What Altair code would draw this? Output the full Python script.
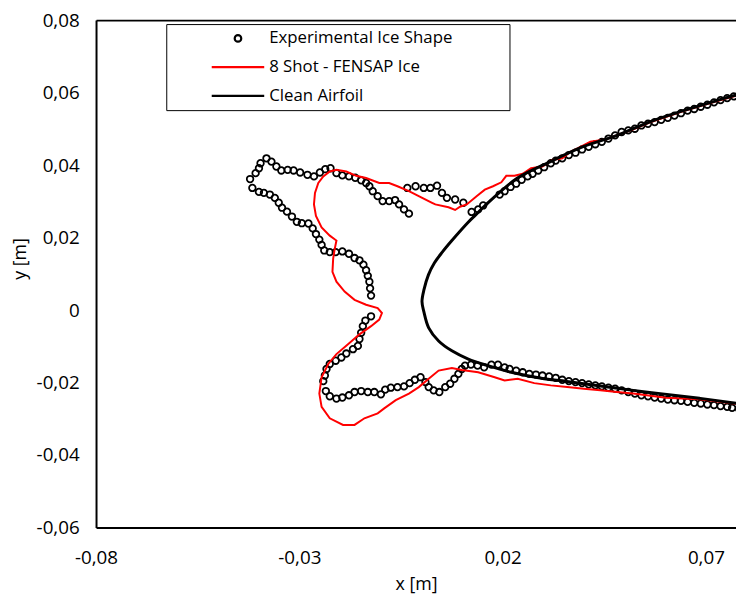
import altair as alt
import pandas as pd

# ---------------- data ----------------
series = ["Experimental Ice Shape", "8 Shot - FENSAP Ice", "Clean Airfoil"]

exp_x = [
    -0.03808, -0.03686, -0.03564, -0.03443, -0.03287, -0.03141, -0.02980, -0.02800, -0.02640, -0.02494,
    -0.02362, -0.02233, -0.02087, -0.01942, -0.01779, -0.01625, -0.01479, -0.01358, -0.01277, -0.01195,
    -0.01073, -0.00951, -0.00791, -0.00645, -0.00547, -0.00426, -0.00304,
    -0.03954, -0.03993, -0.04075, -0.04211, -0.04155, -0.03993, -0.03871, -0.03725, -0.03603, -0.03506,
    -0.03426, -0.03304, -0.03182, -0.03061, -0.02939, -0.02776, -0.02671, -0.02591, -0.02508, -0.02452,
    -0.02387, -0.02251, -0.02105, -0.01942, -0.01779, -0.01642, -0.01521, -0.01423, -0.01358, -0.01316,
    -0.01277, -0.01260, -0.01236,
    -0.00343, -0.00141, 0.00061, 0.00224, 0.00387, 0.00508, 0.00630, 0.00832, 0.01034, 0.01238, 0.01399, 0.01521,
    0.01927, 0.02049, 0.02195, 0.02333, 0.02469, 0.02615, 0.02737, 0.02876, 0.03022, 0.03185,
    0.03306, 0.03467, 0.03630, 0.03793, 0.03954, 0.04117, 0.04280, 0.04440, 0.04603, 0.04766,
    0.04927, 0.05090, 0.05253, 0.05413, 0.05576, 0.05739, 0.05900, 0.06063, 0.06226, 0.06387,
    0.06550, 0.06713, 0.06873, 0.07036, 0.07199, 0.07360, 0.07523, 0.07686, 0.07850,
    -0.01236, -0.01375, -0.01438, -0.01479, -0.01521, -0.01560, -0.01681, -0.01844, -0.01966, -0.02105,
    -0.02251, -0.02331, -0.02372, -0.02411, -0.02348, -0.02251, -0.02087, -0.01942, -0.01779, -0.01642,
    -0.01479, -0.01316, -0.01156, -0.00993, -0.00888, -0.00749, -0.00586, -0.00426, -0.00287, -0.00158,
    -0.00019, 0.00102, 0.00182, 0.00304, 0.00443, 0.00589, 0.00710, 0.00815, 0.00912, 0.00995,
    0.01075, 0.01221, 0.01384, 0.01545, 0.01725, 0.01886, 0.02049, 0.02170, 0.02333, 0.02494,
    0.02657, 0.02820, 0.02980, 0.03143, 0.03306, 0.03467, 0.03630, 0.03793, 0.03954, 0.04117,
    0.04280, 0.04440, 0.04603, 0.04766, 0.04927, 0.05090, 0.05253, 0.05413, 0.05576, 0.05739,
    0.05900, 0.06063, 0.06226, 0.06387, 0.06550, 0.06713, 0.06873, 0.07036, 0.07199, 0.07360,
    0.07523, 0.07644, 0.07813,
]
exp_y = [
    0.04187, 0.04097, 0.03961, 0.03852, 0.03868, 0.03852, 0.03797, 0.03732, 0.03688, 0.03797,
    0.03887, 0.03914, 0.03778, 0.03716, 0.03688, 0.03650, 0.03579, 0.03506, 0.03416, 0.03280,
    0.03143, 0.03007, 0.03007, 0.03035, 0.02915, 0.02778, 0.02661,
    0.04051, 0.03914, 0.03778, 0.03615, 0.03370, 0.03261, 0.03233, 0.03187, 0.03097, 0.02961,
    0.02825, 0.02716, 0.02580, 0.02435, 0.02397, 0.02389, 0.02253, 0.02097, 0.01945, 0.01798,
    0.01645, 0.01599, 0.01599, 0.01618, 0.01553, 0.01436, 0.01373, 0.01253, 0.01100, 0.00945,
    0.00782, 0.00599, 0.00400,
    0.03370, 0.03416, 0.03370, 0.03370, 0.03432, 0.03233, 0.03097, 0.03051, 0.02961, 0.02708, 0.02778, 0.02887,
    0.03187, 0.03280, 0.03397, 0.03487, 0.03596, 0.03688, 0.03759, 0.03852, 0.03942, 0.04051,
    0.04124, 0.04187, 0.04277, 0.04342, 0.04432, 0.04505, 0.04576, 0.04642, 0.04732, 0.04821,
    0.04914, 0.04958, 0.05004, 0.05094, 0.05140, 0.05186, 0.05249, 0.05304, 0.05366, 0.05432,
    0.05502, 0.05549, 0.05611, 0.05666, 0.05731, 0.05794, 0.05848, 0.05895, 0.05940,
    -0.00172, -0.00289, -0.00444, -0.00627, -0.00798, -0.00989, -0.01079, -0.01199, -0.01308, -0.01397,
    -0.01487, -0.01624, -0.01806, -0.01961, -0.02234, -0.02378, -0.02441, -0.02413, -0.02351, -0.02261,
    -0.02234, -0.02261, -0.02261, -0.02324, -0.02196, -0.02141, -0.02125, -0.02106, -0.02016, -0.01923,
    -0.01852, -0.01989, -0.02125, -0.02215, -0.02261, -0.02125, -0.02032, -0.01896, -0.01760, -0.01624,
    -0.01534, -0.01506, -0.01534, -0.01580, -0.01506, -0.01506, -0.01580, -0.01624, -0.01670, -0.01716,
    -0.01760, -0.01779, -0.01806, -0.01833, -0.01869, -0.01923, -0.01961, -0.01989, -0.02016, -0.02051,
    -0.02078, -0.02106, -0.02141, -0.02168, -0.02215, -0.02261, -0.02304, -0.02351, -0.02378, -0.02413,
    -0.02441, -0.02468, -0.02487, -0.02506, -0.02533, -0.02561, -0.02577, -0.02604, -0.02623, -0.02650,
    -0.02670, -0.02697, -0.02722,
]

fensap_x = [
    0.0800, 0.07231, 0.06428, 0.05625, 0.05211, 0.04523, 0.04158, 0.03915, 0.03671, 0.03467,
    0.03224, 0.02980, 0.02698, 0.02494, 0.02292, 0.02090, 0.01968, 0.01764, 0.01562, 0.01360,
    0.01117, 0.00954, 0.00832, 0.00669, 0.00345, 0.00265, 0.00022, -0.00304, -0.00586, -0.00791,
    -0.01034, -0.01358, -0.01601, -0.01844, -0.02087, -0.02251, -0.02411, -0.02533, -0.02615, -0.02640,
    -0.02591, -0.02452, -0.02251, -0.02087, -0.02129, -0.02168, -0.02185, -0.02087, -0.01886, -0.01642,
    -0.01358, -0.01073, -0.00968, -0.01034, -0.01236, -0.01521, -0.01803, -0.02087, -0.02289, -0.02452,
    -0.02508, -0.02452, -0.02251, -0.01925, -0.01642, -0.01399, -0.01073, -0.00912, -0.00628, -0.00304,
    -0.00061, 0.00182, 0.00426, 0.00752, 0.00995, 0.01399, 0.01805, 0.02049, 0.02372, 0.02778,
    0.03185, 0.03589, 0.03995, 0.04401, 0.04805, 0.05211, 0.06014, 0.06842, 0.07742, 0.0800,
]
fensap_y = [
    0.0600, 0.05753, 0.05481, 0.05181, 0.04990, 0.04704, 0.04642, 0.04505, 0.04369, 0.04187,
    0.04140, 0.03961, 0.03914, 0.03759, 0.03705, 0.03705, 0.03525, 0.03416, 0.03323, 0.03143,
    0.02915, 0.02852, 0.02762, 0.02838, 0.02915, 0.02961, 0.03097, 0.03280, 0.03416, 0.03506,
    0.03506, 0.03642, 0.03705, 0.03824, 0.03868, 0.03824, 0.03688, 0.03506, 0.03233, 0.02915,
    0.02599, 0.02280, 0.02054, 0.01918, 0.01689, 0.01416, 0.01054, 0.00782, 0.00509, 0.00283,
    0.00147, 0.00054, -0.00082, -0.00262, -0.00444, -0.00670, -0.00943, -0.01215, -0.01487, -0.01852,
    -0.02304, -0.02670, -0.02986, -0.03168, -0.03168, -0.02986, -0.02849, -0.02713, -0.02487, -0.02304,
    -0.02125, -0.01896, -0.01670, -0.01596, -0.01651, -0.01716, -0.01852, -0.01942, -0.01896, -0.02016,
    -0.02078, -0.02125, -0.02168, -0.02215, -0.02261, -0.02304, -0.02419, -0.02460, -0.02582, -0.0262,
]

clean_x = [
    0.0800, 0.07742, 0.07231, 0.06428, 0.05625, 0.04798, 0.03995, 0.03192, 0.02365, 0.01562,
    0.01319, 0.01148, 0.00752, 0.00516, 0.00321, 0.00175, 0.00066, 0.00017, 0.00061, 0.00182,
    0.00426, 0.00752, 0.01156, 0.01642, 0.02212, 0.03022, 0.03581, 0.05211, 0.06842, 0.07742, 0.0800,
]
clean_y = [
    0.05971, 0.05930, 0.05767, 0.05494, 0.05195, 0.04813, 0.04514, 0.04105, 0.03642, 0.02879,
    0.02607, 0.02416, 0.01918, 0.01599, 0.01299, 0.00972, 0.00564, 0.00237, -0.00035, -0.00490,
    -0.00853, -0.01125, -0.01351, -0.01534, -0.01716, -0.01896, -0.01969, -0.02215, -0.02433, -0.02569, -0.02610,
]

x_ticks = [-0.08, -0.03, 0.02, 0.07]
y_ticks = [-0.06, -0.04, -0.02, 0.0, 0.02, 0.04, 0.06, 0.08]

# ---------------- tables ----------------
exp_df = pd.DataFrame({"x": exp_x, "y": exp_y})
exp_df["series"] = series[0]
fen_df = pd.DataFrame({"x": fensap_x, "y": fensap_y, "i": list(range(len(fensap_x)))})
fen_df["series"] = series[1]
cln_df = pd.DataFrame({"x": clean_x, "y": clean_y, "i": list(range(len(clean_x)))})
cln_df["series"] = series[2]

FONT = "Open Sans"
line_path = "M-8,0H8"

color_scale = alt.Scale(domain=series, range=["#000000", "#FF0000", "#000000"])
shape_scale = alt.Scale(domain=series, range=["circle", line_path, line_path])
xscale = alt.Scale(domain=[-0.08, 0.0774], nice=False, zero=False)
yscale = alt.Scale(domain=[-0.06, 0.08], nice=False, zero=False)

lab_expr = ("abs(datum.value) < 1e-9 ? '0' : (datum.value < 0 ? '-' : '') + "
            "replace(format(abs(datum.value), '.2f'), '.', ',')")

x_bottom = alt.Axis(
    orient="bottom", values=x_ticks, labelExpr=lab_expr, title="x [m]", grid=False, ticks=False,
    domainColor="#000000", domainWidth=2, labelFont=FONT, labelFontSize=19, labelColor="#000000",
    labelPadding=21, labelFlush=False, labelOverlap=False, titleFont=FONT, titleFontSize=18,
    titleFontWeight="normal", titleColor="#000000", titleBaseline="middle", titleY=58,
)
x_top = alt.Axis(orient="top", labels=False, ticks=False, grid=False, title="",
                 domainColor="#000000", domainWidth=2)
y_axis = alt.Axis(
    values=y_ticks, labelExpr=lab_expr, title="y [m]", grid=False, ticks=False,
    domainColor="#000000", domainWidth=2, labelFont=FONT, labelFontSize=19, labelColor="#000000",
    labelPadding=17, labelFlush=False, labelOverlap=False, titleFont=FONT, titleFontSize=18,
    titleFontWeight="normal", titleColor="#000000", titleBaseline="middle", titleAngle=270,
    titleX=-76, titleY=241,
)

# the legend title is an invisible spacer on the right, widening the box like the reference
legend = alt.Legend(
    title=".", titleOrient="right", titleColor="#FFFFFF", titleFontSize=4, titlePadding=50,
    orient="none", legendX=71, legendY=4, direction="vertical", padding=6,
    strokeColor="#000000", fillColor="#FFFFFF", labelFont=FONT, labelFontSize=17,
    labelColor="#000000", labelLimit=600, symbolSize=44, symbolStrokeWidth=2.2, symbolOffset=58,
    labelOffset=23, rowPadding=11,
)

points = alt.Chart(exp_df).mark_point(filled=False, size=44, strokeWidth=1.8, opacity=1, clip=True).encode(
    x=alt.X("x:Q", scale=xscale, axis=x_bottom),
    y=alt.Y("y:Q", scale=yscale, axis=y_axis),
    color=alt.Color("series:N", scale=color_scale, legend=legend),
    shape=alt.Shape("series:N", scale=shape_scale, legend=legend),
)

red = alt.Chart(fen_df).mark_line(strokeWidth=2, clip=True).encode(
    x=alt.X("x:Q", scale=xscale, axis=x_top),
    y=alt.Y("y:Q", scale=yscale, axis=y_axis),
    color=alt.Color("series:N", scale=color_scale, legend=legend),
    order=alt.Order("i:Q"),
)

black = alt.Chart(cln_df).mark_line(strokeWidth=3, clip=True, interpolate="catmull-rom").encode(
    x=alt.X("x:Q", scale=xscale, axis=None),
    y=alt.Y("y:Q", scale=yscale, axis=y_axis),
    color=alt.Color("series:N", scale=color_scale, legend=legend),
    order=alt.Order("i:Q"),
)

chart = (
    alt.layer(points, red, black)
    .resolve_axis(x="independent")
    .properties(
        width=647, height=513,
        padding={"left": 89, "top": 9, "right": 0, "bottom": 70},
        autosize=alt.AutoSizeParams(type="none"),
    )
    .configure_view(stroke=None)
)

chart.save("out.html", embed_options={"renderer": "svg", "actions": False})
